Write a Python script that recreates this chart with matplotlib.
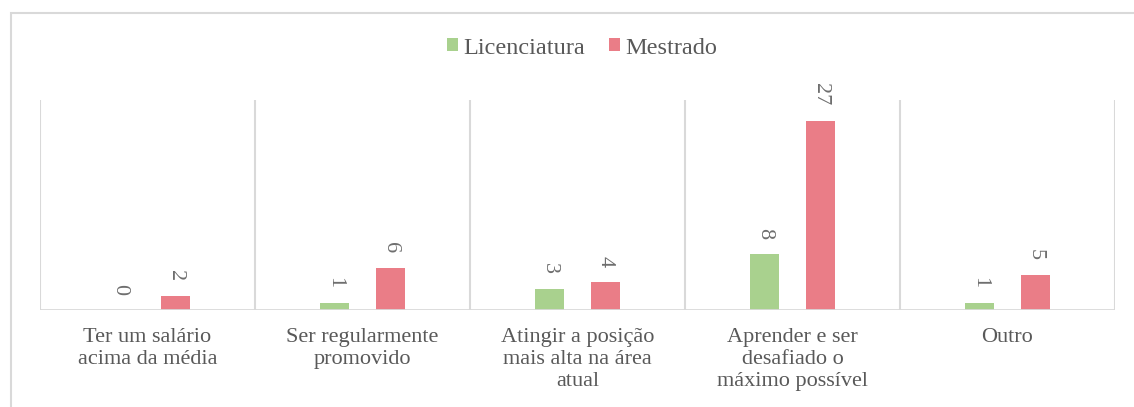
import matplotlib
matplotlib.use("Agg")
import matplotlib.pyplot as plt
from matplotlib.patches import Rectangle, Patch
import numpy as np

categories = ["Ter um salário\nacima da média",
              "Ser regularmente\npromovido",
              "Atingir a posição\nmais alta na área\natual",
              "Aprender e ser\ndesafiado o\nmáximo possível",
              "Outro"]
licenciatura = [0, 1, 3, 8, 1]
mestrado = [2, 6, 4, 27, 5]
series_names = ["Licenciatura", "Mestrado"]

GREEN = "#A9D18E"
RED = "#EA7D87"
GRID = "#D9D9D9"
TXT = "#595959"
VAL = "#6E6E6E"

plt.rcParams['font.family'] = ['Liberation Serif', 'DejaVu Serif']

W, H = 1134, 407
fig = plt.figure(figsize=(W / 100, H / 100), dpi=100)
ax = fig.add_axes([40 / W, 1 - 310 / H, (1115 - 40) / W, (310 - 100) / H])

x = np.arange(len(categories))
bw = 0.135
off = 0.13
b1 = ax.bar(x - off, licenciatura, bw, color=GREEN)
b2 = ax.bar(x + off, mestrado, bw, color=RED)

for bars, vals in ((b1, licenciatura), (b2, mestrado)):
    for rect, v in zip(bars, vals):
        ax.annotate(str(v), (rect.get_x() + rect.get_width() / 2, rect.get_height()),
                    xytext=(0, 11), textcoords="offset points",
                    rotation=270, ha="center", va="bottom",
                    fontsize=16, color=VAL)

ax.set_xlim(-0.5, len(categories) - 0.5)
ax.set_ylim(0, 30)
for xv in np.arange(-0.5, len(categories), 1.0):
    ax.axvline(xv, color=GRID, lw=1.5, zorder=0)
ax.axhline(0, color=GRID, lw=2, zorder=3)
for s in ax.spines.values():
    s.set_visible(False)
ax.set_yticks([])
ax.set_xticks(x)
ax.set_xticklabels(categories, fontsize=16, color=TXT, linespacing=1.2)
ax.tick_params(axis="x", length=0, pad=13)

handles = [Patch(facecolor=GREEN), Patch(facecolor=RED)]
fig.legend(handles, series_names, loc="center", bbox_to_anchor=(582 / W, 1 - 48 / H),
           ncol=2, frameon=False, fontsize=17.5, handlelength=0.45, handleheight=0.45,
           handletextpad=0.2, columnspacing=1.0, labelcolor=TXT)

fig.add_artist(Rectangle((11 / W, -0.1), 1.2, 1 - 13 / H + 0.1, transform=fig.transFigure,
                         fill=False, edgecolor=GRID, lw=1.5))

fig.savefig("out.png", dpi=100)
